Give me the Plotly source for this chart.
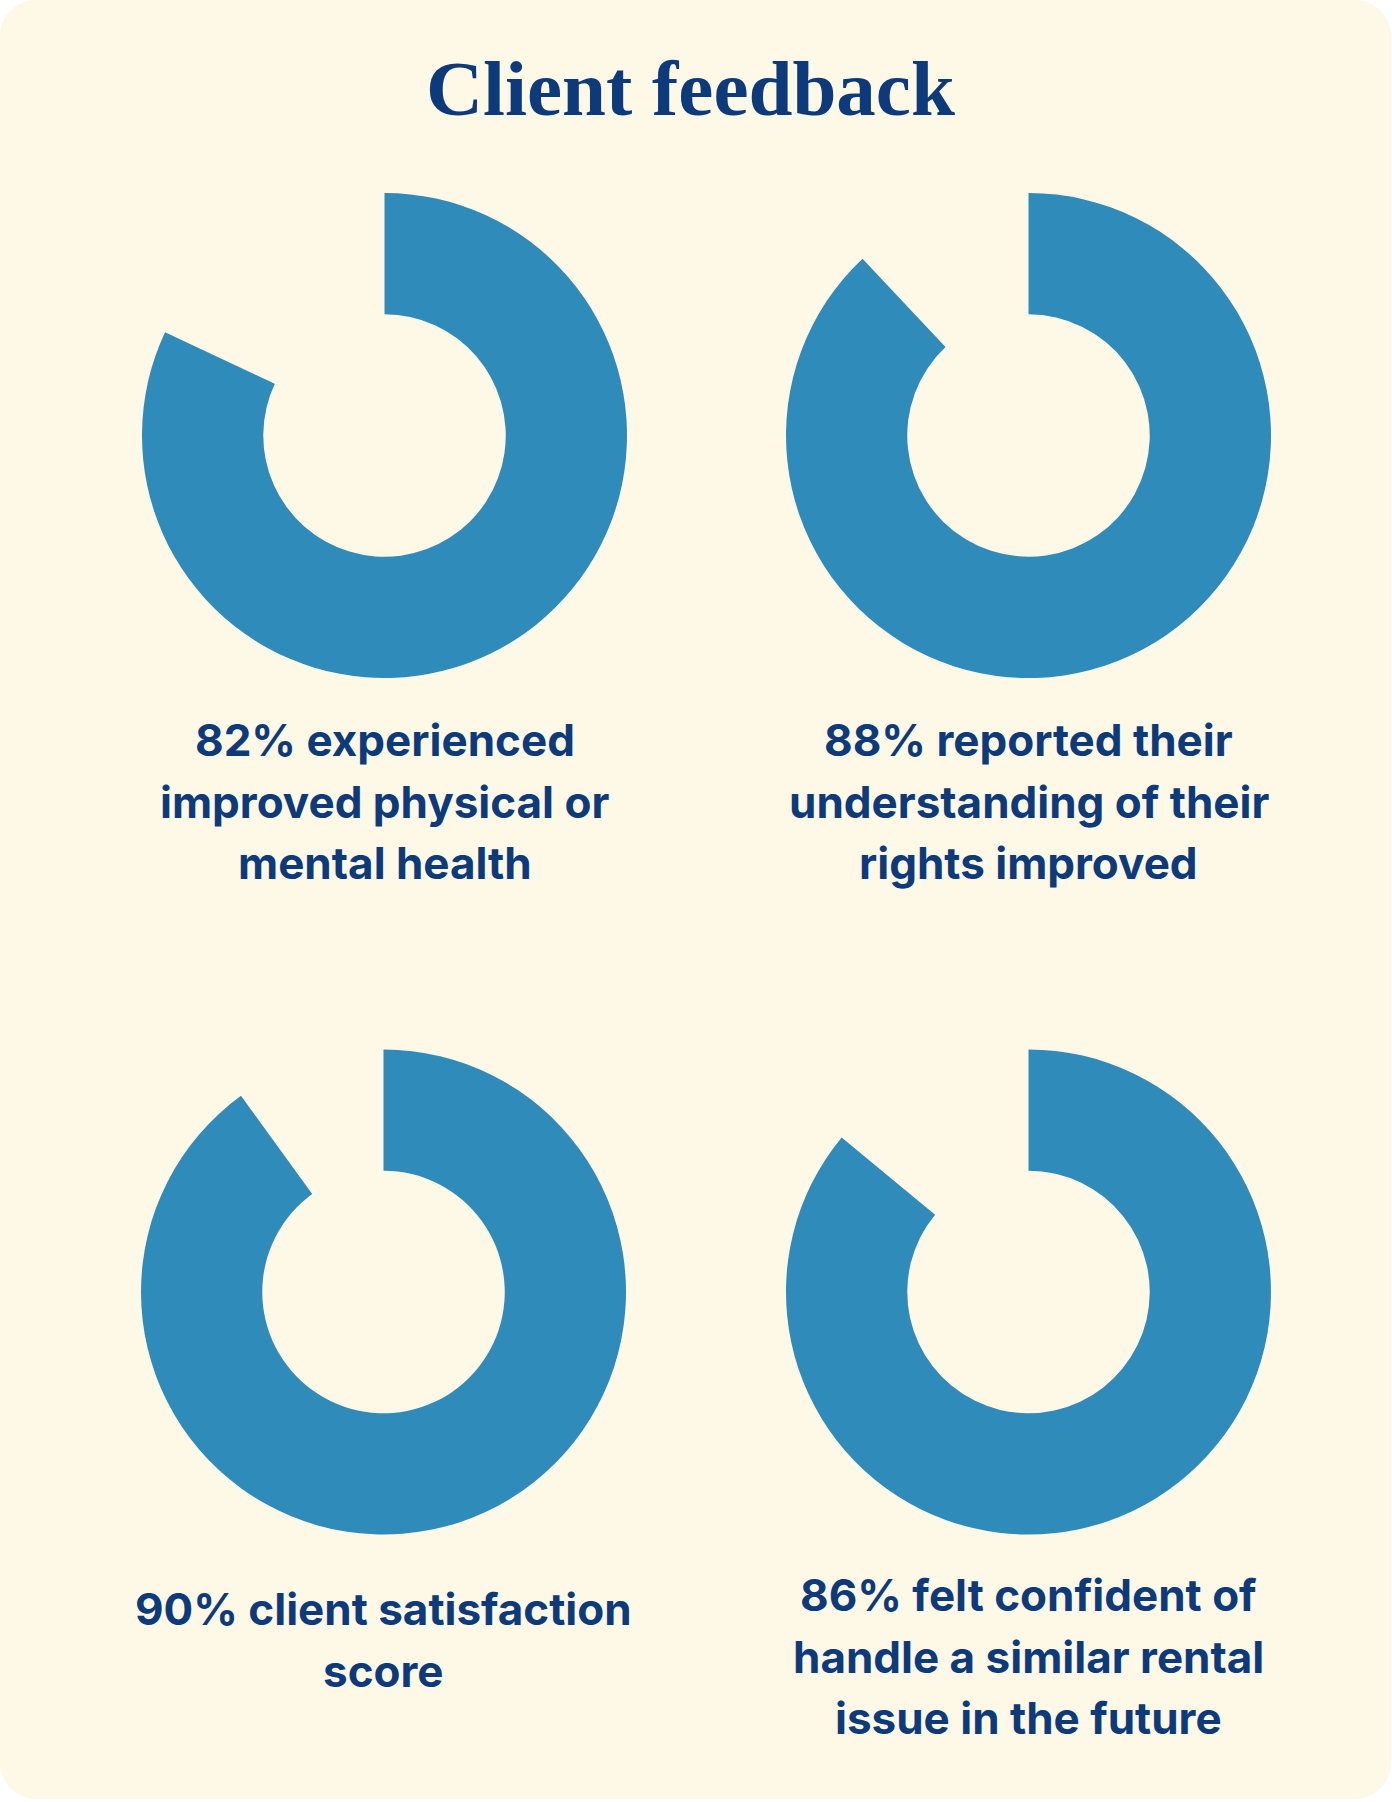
import plotly.graph_objects as go

W, H = 1392, 1802

# ---- data ----
title_text = "Client feedback"
percent_values = [82, 88, 90, 86]
label_lines = [
    ["82% experienced", "improved physical or", "mental health"],
    ["88% reported their", "understanding of their", "rights improved"],
    ["90% client satisfaction", "score"],
    ["86% felt confident of", "handle a similar rental", "issue in the future"],
]

# ---- style / layout ----
BLUE = "#2E8BBA"
NAVY = "#0C3A7B"
CREAM = "#FEF8E6"
centers = [(384.5, 435.5), (1028.5, 435.5), (383.5, 1292.0), (1028.5, 1292.0)]
R = 242.5
first_baseline = [756, 756, 1625, 1611]
LINE_GAP = 61.5
FS = 44
BASE_OFF = 0.363 * FS   # baseline offset below the middle of a single text line


def px_x(x):
    return x / W


def px_y(y):
    return 1 - y / H


fig = go.Figure()

for (cx, cy), v in zip(centers, percent_values):
    fig.add_trace(go.Pie(
        values=[v, 100 - v],
        hole=0.5,
        sort=False,
        direction="clockwise",
        rotation=0,
        marker=dict(colors=[BLUE, "rgba(0,0,0,0)"], line=dict(width=0)),
        textinfo="none",
        hoverinfo="skip",
        showlegend=False,
        domain=dict(x=[px_x(cx - R), px_x(cx + R)], y=[px_y(cy + R), px_y(cy - R)]),
    ))

# rounded card
x0, x1, y0, y1, r = 0, 1391, 0, 1799, 36
k = 0.5523 * r
def P(x, y):
    return f"{px_x(x):.6f},{px_y(y):.6f}"
path = (
    f"M {P(x0 + r, y0)} L {P(x1 - r, y0)} "
    f"C {P(x1 - r + k, y0)} {P(x1, y0 + r - k)} {P(x1, y0 + r)} "
    f"L {P(x1, y1 - r)} "
    f"C {P(x1, y1 - r + k)} {P(x1 - r + k, y1)} {P(x1 - r, y1)} "
    f"L {P(x0 + r, y1)} "
    f"C {P(x0 + r - k, y1)} {P(x0, y1 - r + k)} {P(x0, y1 - r)} "
    f"L {P(x0, y0 + r)} "
    f"C {P(x0, y0 + r - k)} {P(x0 + r - k, y0)} {P(x0 + r, y0)} Z"
)

annotations = [dict(
    text=f"<b>{title_text}</b>",
    x=px_x(690.5), y=px_y(88), xref="paper", yref="paper",
    xanchor="center", yanchor="middle", showarrow=False,
    font=dict(family="Liberation Serif", size=79, color=NAVY),
)]
for (cx, cy), lines, b0 in zip(centers, label_lines, first_baseline):
    for i, line in enumerate(lines):
        annotations.append(dict(
            text=line,
            x=px_x(cx), y=px_y(b0 + i * LINE_GAP - BASE_OFF), xref="paper", yref="paper",
            xanchor="center", yanchor="middle", align="center", showarrow=False,
            font=dict(family="Inter", size=FS, color=NAVY, weight=700),
        ))

fig.update_layout(
    width=W, height=H,
    margin=dict(l=0, r=0, t=0, b=0),
    paper_bgcolor="white",
    plot_bgcolor="white",
    shapes=[dict(type="path", xref="paper", yref="paper", path=path,
                 fillcolor=CREAM, line=dict(width=0), layer="below")],
    annotations=annotations,
)

fig.write_html("out.html")
